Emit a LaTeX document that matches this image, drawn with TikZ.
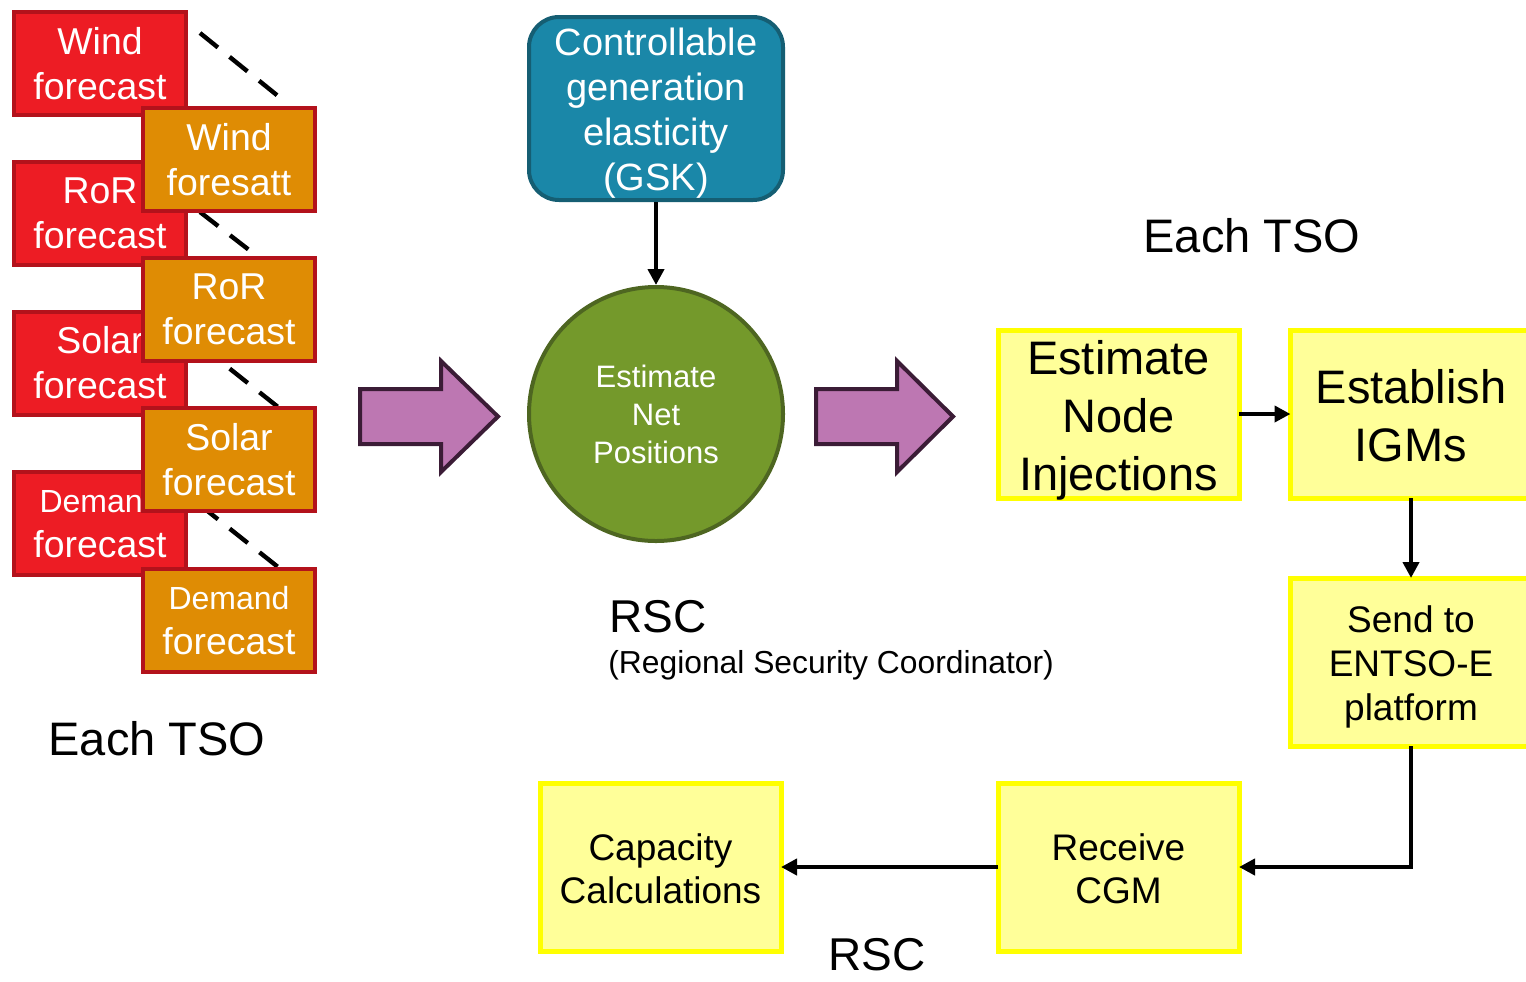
\documentclass[tikz,border=0pt]{standalone}
\usepackage{fontspec}
\setmainfont{Liberation Sans}
\usetikzlibrary{arrows.meta}
\definecolor{redf}{HTML}{ED1C24}
\definecolor{redb}{HTML}{B3121B}
\definecolor{orangef}{HTML}{DF8C04}
\definecolor{bluef}{HTML}{1A87A8}
\definecolor{blueb}{HTML}{155E73}
\definecolor{greenf}{HTML}{74992B}
\definecolor{greenb}{HTML}{4E6621}
\definecolor{purplef}{HTML}{BD77B2}
\definecolor{purpleb}{HTML}{3B1C36}
\definecolor{yellowf}{HTML}{FFFF99}
\definecolor{yellowb}{HTML}{FFFF00}
\begin{document}
\begin{tikzpicture}[x=0.5pt,y=-0.5pt,
  fbox/.style={draw=redb, line width=2pt, minimum width=86pt, minimum height=51.5pt,
    inner sep=0pt, outer sep=0pt, text=white, align=center,
    font=\fontsize{18.7}{22.5}\selectfont},
  redbox/.style={fbox, fill=redf},
  orangebox/.style={fbox, fill=orangef},
  ybox/.style={draw=yellowb, fill=yellowf, line width=2.5pt, minimum width=120.5pt,
    minimum height=84pt, inner sep=0pt, outer sep=0pt},
  ytext/.style={inner sep=0pt, align=center, text=black},
  dashline/.style={line width=2.2pt, dash pattern=on 11.5pt off 7.5pt},
  arr/.style={line width=2.2pt, -{Triangle[length=8pt,width=8pt]}},
  blockarrow/.style={fill=purplef, draw=purpleb, line width=2pt, line join=miter},
  label/.style={inner sep=0pt, text=black}
]
\clip (0,0) rectangle (1526,981);

% dashed links
\coordinate (d1a) at (200,33);  \coordinate (d1b) at (278,96);
\coordinate (d2a) at (200,212); \coordinate (d2b) at (262,260);
\coordinate (d3a) at (200,345); \coordinate (d3b) at (278,407);
\coordinate (d4a) at (200,505); \coordinate (d4b) at (278,567);
\draw[dashline] (d1a) -- (d1b);
\draw[dashline] (d2a) -- (d2b);
\draw[dashline] (d3a) -- (d3b);
\draw[dashline] (d4a) -- (d4b);

% red boxes
\node[redbox] (rw) at (100,63.5) {Wind\\forecast};
\node[redbox] (rr) at (100,213) {RoR\\forecast};
\node[redbox] (rs) at (100,363) {Solar\\forecast};
\node[redbox] (rd) at (100,523.5) {{\fontsize{16}{20.5}\selectfont Demand}\\forecast};

% orange boxes
\node[orangebox] (ow) at (229,159.5) {Wind\\foresatt};
\node[orangebox] (or) at (229,309.5) {RoR\\forecast};
\node[orangebox] (os) at (229,459.5) {Solar\\forecast};
\node[orangebox] (od) at (229,620.5) {{\fontsize{16}{20.5}\selectfont Demand}\\forecast};

\node[label, font=\fontsize{23.5}{28}\selectfont] (tso1) at (157,739) {Each TSO};

% block arrows
\draw[blockarrow] (360,389) -- (441,389) -- (441,361) -- (498,416.5) -- (441,472) -- (441,444) -- (360,444) -- cycle;
\draw[blockarrow] (816,389) -- (897,389) -- (897,361) -- (953,416.5) -- (897,472) -- (897,444) -- (816,444) -- cycle;

% GSK box
\node[draw=blueb, fill=bluef, line width=2pt, rounded corners=15pt, minimum width=127pt,
  minimum height=91.5pt, inner sep=0pt] (gsk) at (656,108.5) {};
\node[inner sep=0pt, text=white, align=center, font=\fontsize{19}{22.5}\selectfont,
  yshift=-2.5pt] (gskT) at (gsk) {Controllable\\generation\\elasticity\\(GSK)};

% circle
\node[circle, draw=greenb, fill=greenf, line width=2pt, minimum size=127pt, inner sep=0pt,
  text=white, align=center, font=\fontsize{15.5}{19}\selectfont] (np) at (656,414)
  {Estimate\\Net\\Positions};

\draw[arr] (gsk.south) -- (np.north);

\node[label, anchor=west, font=\fontsize{23}{28}\selectfont] (rsc1) at (609,617) {RSC};
\node[label, anchor=west, font=\fontsize{15.9}{19}\selectfont] (rscfull) at (608,665) {(Regional Security Coordinator)};

\node[label, font=\fontsize{23.5}{28}\selectfont] (tso2) at (1252,236) {Each TSO};

% yellow boxes
\node[ybox] (eni) at (1118.5,414) {};
\node[ytext, font=\fontsize{23.5}{29}\selectfont, yshift=-3pt] (eniT) at (eni) {Estimate\\Node\\Injections};
\node[ybox] (igm) at (1411,414) {};
\node[ytext, font=\fontsize{23.5}{29}\selectfont, yshift=-1pt] (igmT) at (igm) {Establish\\IGMs};
\node[ybox] (send) at (1411,662) {};
\node[ytext, font=\fontsize{18.5}{22}\selectfont, yshift=-2.5pt] (sendT) at (send) {Send to\\ENTSO-E\\platform};
\node[ybox] (cgm) at (1118.5,867) {};
\node[ytext, font=\fontsize{18.5}{21.5}\selectfont, yshift=-1pt] (cgmT) at (cgm) {Receive\\CGM};
\node[ybox] (cap) at (660.5,867) {};
\node[ytext, font=\fontsize{18.5}{21.5}\selectfont, yshift=-1pt] (capT) at (cap) {Capacity\\Calculations};

\draw[arr] (eni.east) -- (igm.west);
\draw[arr] (igm.south) -- (send.north);
\draw[arr] (send.south) |- (cgm.east);
\draw[arr] (cgm.west) -- (cap.east);

\node[label, font=\fontsize{23}{28}\selectfont] (rsc2) at (877,955) {RSC};
\end{tikzpicture}
\end{document}
